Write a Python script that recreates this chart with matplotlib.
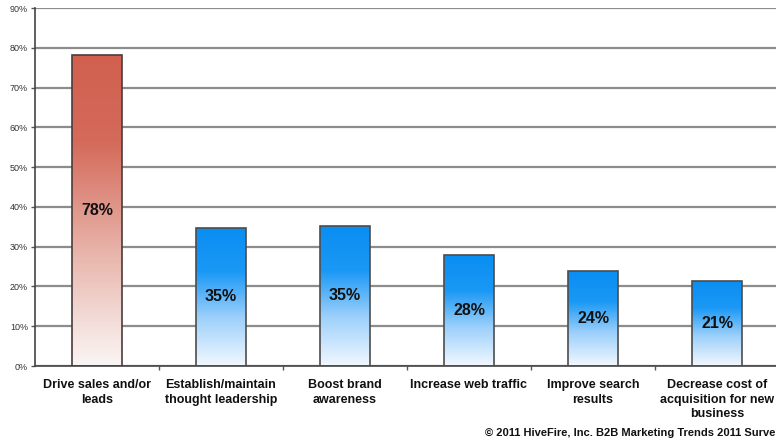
import matplotlib
matplotlib.use("Agg")
import matplotlib.pyplot as plt
import numpy as np
from matplotlib.colors import LinearSegmentedColormap

categories = ["Drive sales and/or\nleads", "Establish/maintain\nthought leadership",
              "Boost brand\nawareness", "Increase web traffic", "Improve search\nresults",
              "Decrease cost of\nacquisition for new\nbusiness"]
values = [78.3, 34.8, 35.2, 27.9, 23.8, 21.4]
labels = ["78%", "35%", "35%", "28%", "24%", "21%"]
yticks = [0, 10, 20, 30, 40, 50, 60, 70, 80, 90]
footer = "\u00a9 2011 HiveFire, Inc. B2B Marketing Trends 2011 Surve"

plt.rcParams['font.family'] = ['Liberation Sans', 'DejaVu Sans']

fig = plt.figure(figsize=(7.76, 4.42), dpi=100)
ax = fig.add_axes([35/776, 76/442, 744/776, 358/442])
ax.set_xlim(-0.5, len(categories) - 0.5)
ax.set_ylim(0, 90)

red_cmap = LinearSegmentedColormap.from_list(
    "red", [(0.0, "#faf6f5"), (0.35, "#e9b7ae"), (0.72, "#d46a5a"), (1.0, "#d1604f")])
blue_cmap = LinearSegmentedColormap.from_list(
    "blue", [(0.0, "#f2f8ff"), (0.35, "#9cd0fb"), (0.68, "#1a98f5"), (1.0, "#0a8ef2")])

x = np.arange(len(categories))
bars = ax.bar(x, values, width=0.40, facecolor="none", zorder=3)
grad = np.linspace(0, 1, 256).reshape(-1, 1)
for i, b in enumerate(bars):
    cmap = red_cmap if i == 0 else blue_cmap
    ec = "#4a3c3c" if i == 0 else "#4d4d4d"
    b.set_edgecolor(ec)
    b.set_linewidth(1.2)
    im = ax.imshow(grad, cmap=cmap, origin="lower", aspect="auto",
                   extent=(b.get_x(), b.get_x() + b.get_width(), 0, b.get_height()),
                   zorder=2)
    im.set_clip_path(b)
    ax.text(b.get_x() + b.get_width() / 2, b.get_height() / 2, labels[i],
            ha="center", va="center", fontsize=11.5, fontweight="bold", color="#111111", zorder=4)

ax.set_yticks(yticks)
ax.set_yticklabels([f"{t}%" for t in yticks], fontsize=6.5, color="#333333")
ax.yaxis.grid(True, color="#8c8c8c", linewidth=1.6, zorder=1)
ax.set_axisbelow(True)
ax.tick_params(axis="y", length=3, width=1, color="#555555", pad=2)

ax.set_xticks(np.arange(0.5, len(categories) - 0.5, 1.0))
ax.set_xticklabels([])
ax.tick_params(axis="x", length=3, width=1, color="#555555")
for i, c in enumerate(categories):
    ax.text(x[i], -3.3, c, ha="center", va="top", fontsize=9, fontweight="bold",
            color="#111111", linespacing=1.28)

for s in ["top", "right"]:
    ax.spines[s].set_visible(False)
for s in ["left", "bottom"]:
    ax.spines[s].set_color("#444444")
    ax.spines[s].set_linewidth(1.2)

fig.text(775/776, 1 - 433/442, footer, ha="right", va="center", fontsize=8.0,
         fontweight="bold", color="#111111")

fig.savefig("out.png", dpi=100)
